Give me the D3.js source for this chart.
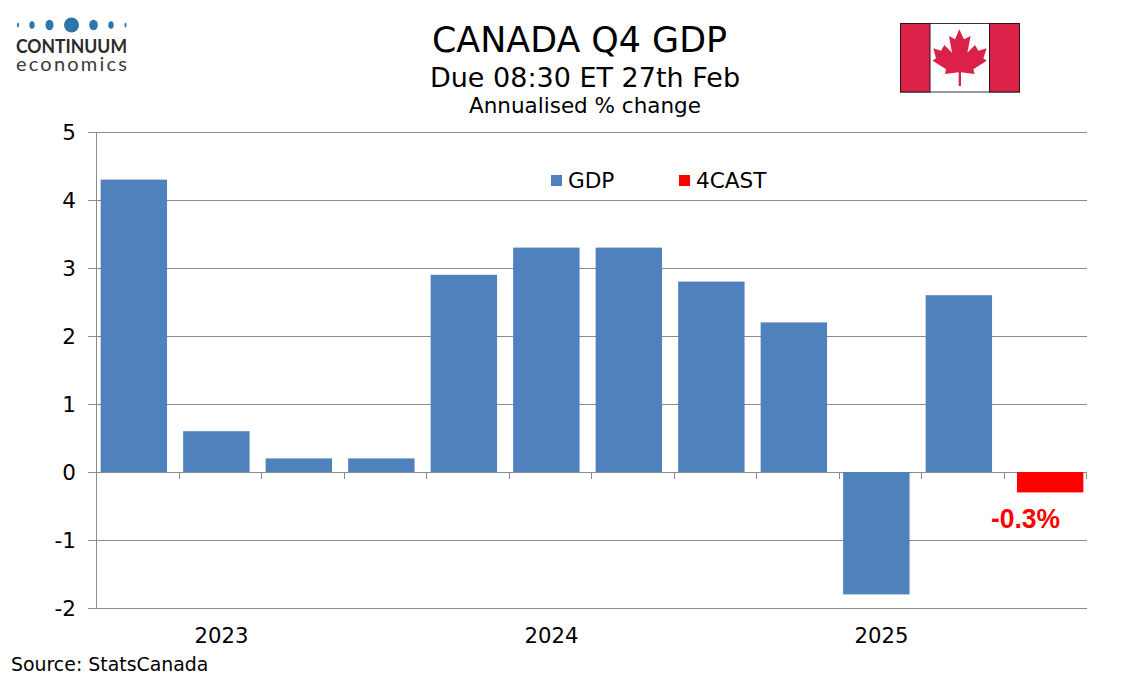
<!DOCTYPE html>
<html><head><meta charset="utf-8">
<script src="https://cdnjs.cloudflare.com/ajax/libs/d3/7.8.5/d3.min.js"></script>
<style>html,body{margin:0;padding:0;background:#fff}svg{display:block}text{font-family:"DejaVu Sans",sans-serif;fill:#000}</style>
</head><body><svg id="c" width="1134" height="680"></svg>
<script>
const quarters=["23Q1","23Q2","23Q3","23Q4","24Q1","24Q2","24Q3","24Q4","25Q1","25Q2","25Q3","25Q4"];
const gdp=[4.3,0.6,0.2,0.2,2.9,3.3,3.3,2.8,2.2,-1.8,2.6,null];
const forecast=[null,null,null,null,null,null,null,null,null,null,null,-0.3];
const yTicks=[5,4,3,2,1,0,-1,-2];
const years=["2023","2024","2025"];
const yearSpans=[[0,3],[4,7],[8,11]];
const titles=["CANADA Q4 GDP","Due 08:30 ET 27th Feb","Annualised % change"];
const source="Source: StatsCanada";
const logoDots=[[18,1,2.6],[32,2.7,3.8],[49.5,4,5.3],[71.5,7.5,7.5],[93.5,4.3,5.3],[111,2.7,3.8],[125.5,1,2.6]];
const leaf=[[238,58],[252,88],[272,78],[262,128],[285,105],[295,122],[320,115],[310,145],[320,152],[280,178],[284,192],[243,187],[243,228],[236,228],[236,187],[195,192],[198,178],[158,152],[168,145],[160,115],[183,122],[193,105],[216,128],[207,78],[225,88]];

const svg=d3.select("#c");
const x=d3.scaleBand().domain(quarters).range([97,1087]);
const series=["gdp","forecast"];
const barWidth=x.bandwidth()*0.805;
const clusterShift=d3.scalePoint().domain(series).range([-4.4,4.4]);
const barX=(q,s)=>x(q)+x.bandwidth()/2+clusterShift(s)-barWidth/2;
const y=d3.scaleLinear().domain([-2,5]).range([608,132]);
const lineCol="#8c8c8c",blue="#4f81bd",red="#ff0000";

svg.append("g").selectAll("line").data(yTicks).join("line")
 .attr("x1",88).attr("x2",1087).attr("y1",d=>y(d)+0.5).attr("y2",d=>y(d)+0.5)
 .attr("stroke",lineCol).attr("stroke-width",1);
svg.append("line").attr("x1",96.5).attr("x2",96.5).attr("y1",132).attr("y2",608).attr("stroke",lineCol).attr("stroke-width",1);
svg.append("g").selectAll("line").data(d3.range(quarters.length+1)).join("line")
 .attr("x1",i=>Math.round(97+i*x.step())-0.5).attr("x2",i=>Math.round(97+i*x.step())-0.5).attr("y1",y(0)).attr("y2",y(0)+7)
 .attr("stroke",lineCol).attr("stroke-width",1);
svg.append("g").selectAll("rect").data(quarters.map((q,i)=>({q,v:gdp[i]})).filter(d=>d.v!==null)).join("rect")
 .attr("x",d=>barX(d.q,"gdp")).attr("width",barWidth)
 .attr("y",d=>y(Math.max(0,d.v))).attr("height",d=>Math.abs(y(d.v)-y(0))).attr("fill",blue);
svg.append("g").selectAll("rect").data(quarters.map((q,i)=>({q,v:forecast[i]})).filter(d=>d.v!==null)).join("rect")
 .attr("x",d=>barX(d.q,"forecast")).attr("width",barWidth)
 .attr("y",d=>y(Math.max(0,d.v))).attr("height",d=>Math.abs(y(d.v)-y(0))).attr("fill",red);
svg.append("text").attr("x",1025.5).attr("y",527.5).attr("text-anchor","middle")
 .attr("textLength",69).attr("lengthAdjust","spacingAndGlyphs")
 .style("font-family","'Liberation Sans',Arial,sans-serif").style("font-weight","bold").style("font-size","27px").style("fill",red)
 .text(forecast[11].toFixed(1)+"%");
svg.append("g").selectAll("text").data(yTicks).join("text")
 .attr("x",76).attr("y",d=>y(d)+8).attr("text-anchor","end").style("font-size","21.5px").text(d=>d);
svg.append("g").selectAll("text").data(years).join("text")
 .attr("x",(d,i)=>(x(quarters[yearSpans[i][0]])+x(quarters[yearSpans[i][1]])+x.bandwidth())/2-40.5)
 .attr("y",643).attr("text-anchor","middle").style("font-size","21.2px").text(d=>d);
[[551,blue,568,"GDP"],[679,red,696,"4CAST"]].forEach(([sx,c,tx,t])=>{
 svg.append("rect").attr("x",sx).attr("y",175).attr("width",11).attr("height",11).attr("fill",c);
 svg.append("text").attr("x",tx).attr("y",188).style("font-size","21.6px").text(t);
});
[[52,34.9],[87,27],[113,21.5]].forEach(([yy,s],i)=>{
 svg.append("text").attr("x",i==0?579.5:585).attr("y",yy).attr("text-anchor","middle").style("font-size",s+"px").text(titles[i]);
});
svg.append("text").attr("x",11).attr("y",671).style("font-size","18.9px").text(source);
const flag=svg.append("g");
flag.append("rect").attr("x",900.5).attr("y",23.5).attr("width",119).attr("height",68.5).attr("fill","#fff").attr("stroke","#333");
flag.append("rect").attr("x",900.5).attr("y",23.5).attr("width",29.5).attr("height",68.5).attr("fill","#dc2149").attr("stroke","#33121c");
flag.append("rect").attr("x",989.5).attr("y",23.5).attr("width",30).attr("height",68.5).attr("fill","#dc2149").attr("stroke","#33121c");
flag.append("path").attr("d",d3.line().x(p=>p[0]/3+880).y(p=>p[1]/3+10).curve(d3.curveLinearClosed)(leaf)).attr("fill","#dc2149");
svg.append("g").selectAll("ellipse").data(logoDots).join("ellipse")
 .attr("cx",d=>d[0]).attr("cy",25).attr("rx",d=>d[1]).attr("ry",d=>d[2]).attr("fill","#2e75ab");
svg.append("text").attr("x",16).attr("y",53.3).attr("textLength",111).attr("lengthAdjust","spacingAndGlyphs")
 .style("font-family","Lato,sans-serif").style("font-weight","700").style("font-size","18px").style("fill","#2b2b2b").text("CONTINUUM");
svg.append("text").attr("x",16).attr("y",70.7).attr("textLength",111).attr("lengthAdjust","spacing")
 .style("font-family","Lato,sans-serif").style("font-size","20px").style("fill","#3a3a3a").text("economics");
</script></body></html>
